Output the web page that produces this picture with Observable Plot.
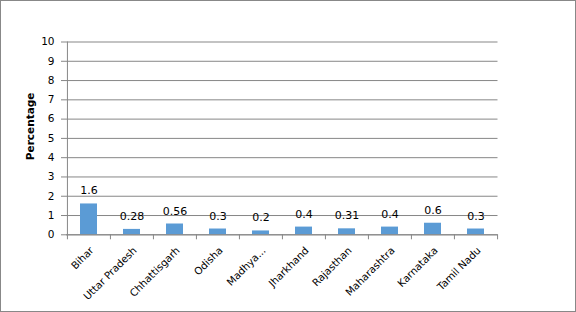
<!DOCTYPE html>
<html>
<head>
<meta charset="utf-8">
<script src="https://cdn.jsdelivr.net/npm/d3@7"></script>
<script src="https://cdn.jsdelivr.net/npm/@observablehq/plot@0.6"></script>
<style>
  html, body { margin: 0; padding: 0; background: #fff; }
  #chart svg { display: block; outline: 1px solid #888; outline-offset: -1px; }
</style>
</head>
<body>
<div id="chart"></div>
<script>
const states = ["Bihar", "Uttar Pradesh", "Chhattisgarh", "Odisha", "Madhya...", "Jharkhand", "Rajasthan", "Maharashtra", "Karnataka", "Tamil Nadu"];
const values = [1.6, 0.28, 0.56, 0.3, 0.2, 0.4, 0.31, 0.4, 0.6, 0.3];
const valueLabels = ["1.6", "0.28", "0.56", "0.3", "0.2", "0.4", "0.31", "0.4", "0.6", "0.3"];
const yTicks = [0, 1, 2, 3, 4, 5, 6, 7, 8, 9, 10];

const data = states.map((s, i) => ({state: s, value: values[i], label: valueLabels[i]}));

const W = 576, H = 312;
const mL = 66, mR = 78.5, mT = 41.5, mB = 77.7;
const step = (W - mL - mR) / states.length;
const font = "DejaVu Sans, Verdana, sans-serif";
const grid = "#878787";

const chart = Plot.plot({
  width: W,
  height: H,
  marginLeft: mL,
  marginRight: mR,
  marginTop: mT,
  marginBottom: mB,
  style: {fontFamily: font, fontSize: "10.5px", color: "#000", background: "#fff"},
  x: {domain: states, paddingInner: 0.6, paddingOuter: 0.3, axis: null},
  y: {domain: [0, 10], axis: null},
  marks: [
    Plot.gridY(yTicks, {stroke: grid, strokeOpacity: 1, strokeWidth: 1}),
    Plot.barY(data, {x: "state", y: "value", fill: "#5B9BD5"}),
    Plot.ruleY([0], {stroke: grid, strokeWidth: 1}),
    Plot.ruleX([states[0]], {x: d => d, dx: -step / 2, y1: 0, y2: 10, stroke: grid}),
    Plot.axisY(yTicks, {anchor: "left", tickSize: 5, tickPadding: 7, stroke: grid, strokeOpacity: 1, label: null, fontSize: "10.5px", fill: "#000"}),
    Plot.axisX(states, {anchor: "bottom", tickSize: 5, tickFormat: () => "", dx: -step / 2, stroke: grid, strokeOpacity: 1, label: null}),
    Plot.axisX([states[states.length - 1]], {anchor: "bottom", tickSize: 5, tickFormat: () => "", dx: step / 2, stroke: grid, strokeOpacity: 1, label: null}),
    Plot.text(data, {x: "state", y: 0, text: "state", rotate: -45, textAnchor: "end", dx: 3, dy: 14, fontSize: 10.2, fill: "#000"}),
    Plot.text(data, {x: "state", y: "value", text: "label", dy: -13, fontSize: 11, fill: "#000"}),
    Plot.text(["Percentage"], {frameAnchor: "left", textAnchor: "middle", rotate: -90, dx: -36, dy: -12, fontWeight: "bold", fontSize: 10.5, fill: "#000"})
  ]
});
document.getElementById("chart").appendChild(chart);
</script>
</body>
</html>
